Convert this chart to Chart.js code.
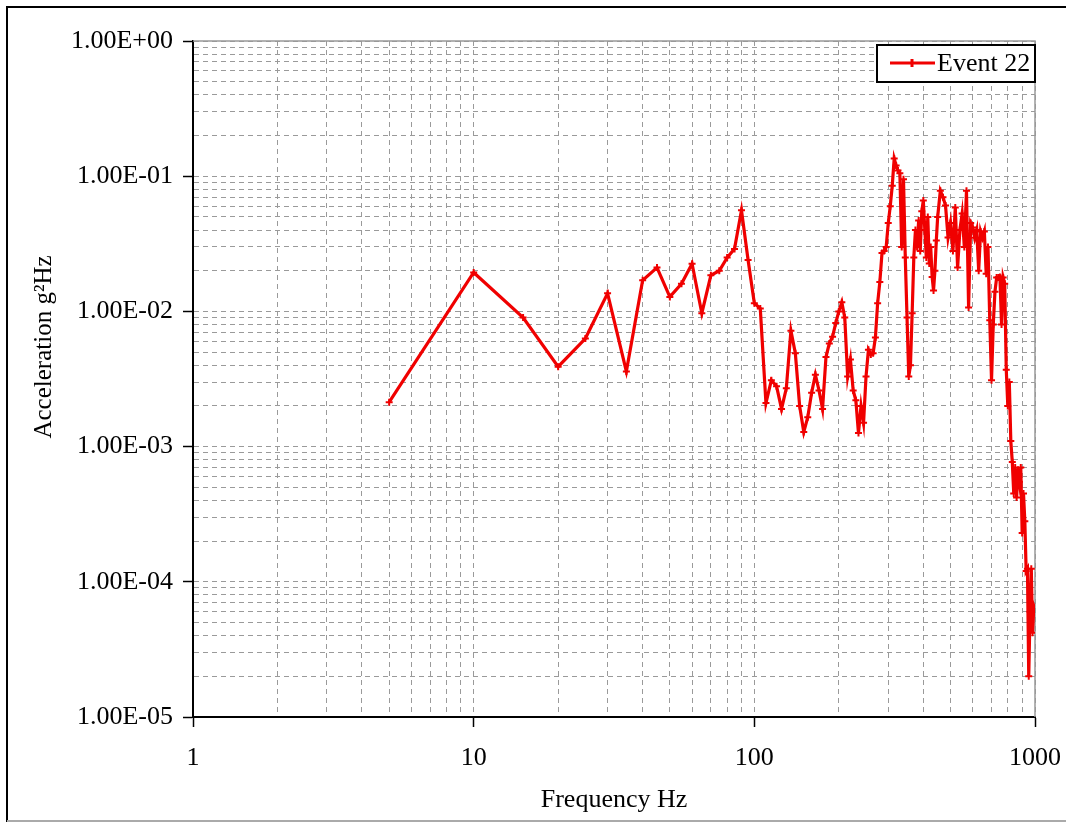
<!DOCTYPE html>
<html>
<head>
<meta charset="utf-8">
<script src="https://cdn.jsdelivr.net/npm/chart.js@4.4.0/dist/chart.umd.min.js"></script>
<style>
  body { margin: 0; background: #fff; }
  canvas { display: block; }
</style>
</head>
<body>
<canvas id="psdChart" width="1066" height="823"></canvas>
<script>
// Event 22 PSD (Hz, g^2/Hz)
const freqHz = [
  5, 10, 15, 20, 25, 30, 35, 40, 45, 50, 55, 60, 65, 70, 75, 80, 85, 90, 95, 100,
  105, 110, 115, 120, 125, 130, 135, 140, 145, 150, 155, 160, 165, 170, 175, 180,
  185, 190, 195, 200, 205, 210, 215, 220, 225, 230, 235, 240, 245, 250, 255, 260,
  265, 270, 275, 280, 285, 290, 295, 300, 305, 310, 315, 320, 325, 330, 335, 340,
  345, 350, 355, 360, 365, 370, 375, 380, 385, 390, 395, 400, 405, 410, 415, 420,
  425, 430, 435, 440, 445, 450, 460, 470, 480, 490, 500, 510, 520, 530, 540, 550,
  560, 570, 580, 590, 600, 610, 620, 630, 640, 650, 660, 670, 680, 690, 700, 710,
  720, 730, 740, 750, 760, 770, 780, 790, 800, 810, 820, 830, 840, 850, 860, 870,
  880, 890, 900, 910, 920, 930, 940, 950, 960, 970, 980, 990, 1000
];
const accel = [
  0.00213, 0.0194, 0.0090, 0.0039, 0.0063, 0.0136, 0.0036, 0.0170, 0.0211, 0.0128,
  0.0160, 0.0225, 0.0097, 0.0185, 0.0200, 0.0250, 0.0290, 0.0560, 0.0240, 0.0115,
  0.0105, 0.0021, 0.0031, 0.0028, 0.0019, 0.0027, 0.0072, 0.0049, 0.0020, 0.00128,
  0.00165, 0.0025, 0.0034, 0.0026, 0.0019, 0.0046, 0.0058, 0.0065, 0.0082, 0.0100,
  0.0117, 0.0090, 0.0033, 0.0044, 0.0026, 0.0022, 0.00126, 0.0020, 0.0015, 0.0033,
  0.0052, 0.0048, 0.0049, 0.0064, 0.0115, 0.0165, 0.0270, 0.0280, 0.0300, 0.0450,
  0.0600, 0.0850, 0.1350, 0.1200, 0.1100, 0.1050, 0.0300, 0.0950, 0.0250, 0.0090,
  0.0033, 0.0040, 0.0097, 0.0250, 0.0400, 0.0300, 0.0470, 0.0280, 0.0550, 0.0660,
  0.0400, 0.0250, 0.0500, 0.0226, 0.0300, 0.0180, 0.0143, 0.0200, 0.0334, 0.0500,
  0.0780, 0.0700, 0.0606, 0.0352, 0.0450, 0.0280, 0.0586, 0.0211, 0.0400, 0.0529,
  0.0300, 0.0780, 0.0107, 0.0450, 0.0417, 0.0350, 0.0400, 0.0200, 0.0390, 0.0350,
  0.0390, 0.0190, 0.0300, 0.0086, 0.0031, 0.0080, 0.0140, 0.0178, 0.0178, 0.0180,
  0.0080, 0.0178, 0.0160, 0.0037, 0.0020, 0.0030, 0.0011, 0.00077, 0.00045, 0.00070,
  0.00042, 0.00067, 0.00055, 0.00070, 0.00023, 0.00045, 0.00028, 0.00012, 0.000125, 0.000020,
  0.000060, 0.000125, 0.000042, 0.000065, 0.000060
];
const xDecades = [1, 10, 100, 1000];
const yDecades = [1e-5, 1e-4, 1e-3, 1e-2, 1e-1, 1];
const seriesName = 'Event 22';
const xTitle = 'Frequency Hz';
const yTitle = 'Acceleration g\u00B2Hz';

const FONT = 'Liberation Serif';
const RED = '#f00000';

function logTicks(decades) {
  const out = [];
  decades.forEach((d, i) => {
    if (i === decades.length - 1) { out.push({ value: d }); return; }
    for (let m = 1; m <= 9; m++) out.push({ value: Number((m * d).toPrecision(3)) });
  });
  return out;
}
function isDecade(v) {
  const l = Math.log10(v);
  return Math.abs(l - Math.round(l)) < 1e-9;
}
function sciLabel(v) {
  const e = Math.round(Math.log10(v));
  return '1.00E' + (e < 0 ? '-' : '+') + String(Math.abs(e)).padStart(2, '0');
}

const points = freqHz.map((f, i) => ({ x: f, y: accel[i] }));

// frame, outer border, y title and the boxed legend
const decor = {
  id: 'decor',
  beforeDatasetsDraw(chart) {
    const { ctx, chartArea: a } = chart;
    ctx.save();
    ctx.strokeStyle = '#999';
    ctx.lineWidth = 1.5;
    ctx.beginPath();
    ctx.moveTo(a.left, a.top);
    ctx.lineTo(a.right, a.top);
    ctx.lineTo(a.right, a.bottom);
    ctx.stroke();
    ctx.restore();
  },
  afterDraw(chart) {
    const { ctx } = chart;
    ctx.save();
    // outer border
    ctx.strokeStyle = '#000';
    ctx.lineWidth = 2;
    ctx.beginPath();
    ctx.moveTo(7, 822);
    ctx.lineTo(7, 7);
    ctx.lineTo(1066, 7);
    ctx.stroke();
    ctx.strokeStyle = '#aaa';
    ctx.beginPath();
    ctx.moveTo(7, 821);
    ctx.lineTo(1066, 821);
    ctx.stroke();

    // y title
    ctx.fillStyle = '#000';
    ctx.font = '25px "' + FONT + '"';
    ctx.translate(44, 347);
    ctx.rotate(-Math.PI / 2);
    ctx.textAlign = 'center';
    ctx.textBaseline = 'middle';
    ctx.fillText(yTitle, 0, 0);
    ctx.setTransform(1, 0, 0, 1, 0, 0);

    // legend
    ctx.fillStyle = '#fff';
    ctx.fillRect(877, 45, 158, 37);
    ctx.strokeStyle = '#000';
    ctx.lineWidth = 2;
    ctx.strokeRect(877, 45, 158, 37);
    ctx.strokeStyle = RED;
    ctx.lineWidth = 3;
    ctx.beginPath();
    ctx.moveTo(890, 63);
    ctx.lineTo(935, 63);
    ctx.moveTo(912, 59);
    ctx.lineTo(912, 67);
    ctx.stroke();
    ctx.fillStyle = '#000';
    ctx.font = '26px "' + FONT + '"';
    ctx.textAlign = 'left';
    ctx.textBaseline = 'middle';
    ctx.fillText(chart.data.datasets[0].label, 937, 64);
    ctx.restore();
  }
};

const ctx = document.getElementById('psdChart').getContext('2d');
new Chart(ctx, {
  type: 'scatter',
  data: {
    datasets: [{
      label: seriesName,
      data: points,
      showLine: true,
      borderColor: RED,
      backgroundColor: RED,
      borderWidth: 3.2,
      pointStyle: 'cross',
      pointRadius: 3.5,
      pointBorderWidth: 2,
      pointHoverRadius: 3.5
    }]
  },
  options: {
    responsive: false,
    animation: false,
    layout: { padding: { left: 0, top: 41, right: 31, bottom: 0 } },
    plugins: {
      legend: { display: false },
      tooltip: { enabled: false }
    },
    scales: {
      x: {
        type: 'logarithmic',
        min: xDecades[0],
        max: xDecades[xDecades.length - 1],
        afterBuildTicks: s => { s.ticks = logTicks(xDecades); },
        afterFit: s => { s.height = 106; s.paddingLeft = 0; s.paddingRight = 0; },
        grid: {
          color: '#9a9a9a',
          lineWidth: 1,
          tickLength: 10,
          tickWidth: 1.5,
          tickColor: c => (c.tick && isDecade(c.tick.value) ? '#000' : 'rgba(0,0,0,0)')
        },
        border: { display: true, color: '#000', width: 2, dash: [5, 4] },
        ticks: {
          autoSkip: false,
          maxRotation: 0,
          padding: 16,
          color: '#000',
          font: { family: FONT, size: 26 },
          callback: v => (isDecade(v) ? String(Math.round(v)) : '')
        },
        title: {
          display: true,
          text: xTitle,
          color: '#000',
          font: { family: FONT, size: 26 },
          padding: { top: 0, bottom: 7 }
        }
      },
      y: {
        type: 'logarithmic',
        min: yDecades[0],
        max: yDecades[yDecades.length - 1],
        afterBuildTicks: s => { s.ticks = logTicks(yDecades); },
        afterFit: s => { s.width = 193; s.paddingTop = 0; s.paddingBottom = 0; },
        grid: {
          color: '#9a9a9a',
          lineWidth: 1,
          tickLength: 10,
          tickWidth: 1.5,
          tickColor: c => (c.tick && isDecade(c.tick.value) ? '#000' : 'rgba(0,0,0,0)')
        },
        border: { display: true, color: '#000', width: 2, dash: [5, 4] },
        ticks: {
          autoSkip: false,
          padding: 10,
          color: '#000',
          font: { family: FONT, size: 26 },
          callback: v => (isDecade(v) ? sciLabel(v) : '')
        }
      }
    }
  },
  plugins: [decor]
});
</script>
</body>
</html>
